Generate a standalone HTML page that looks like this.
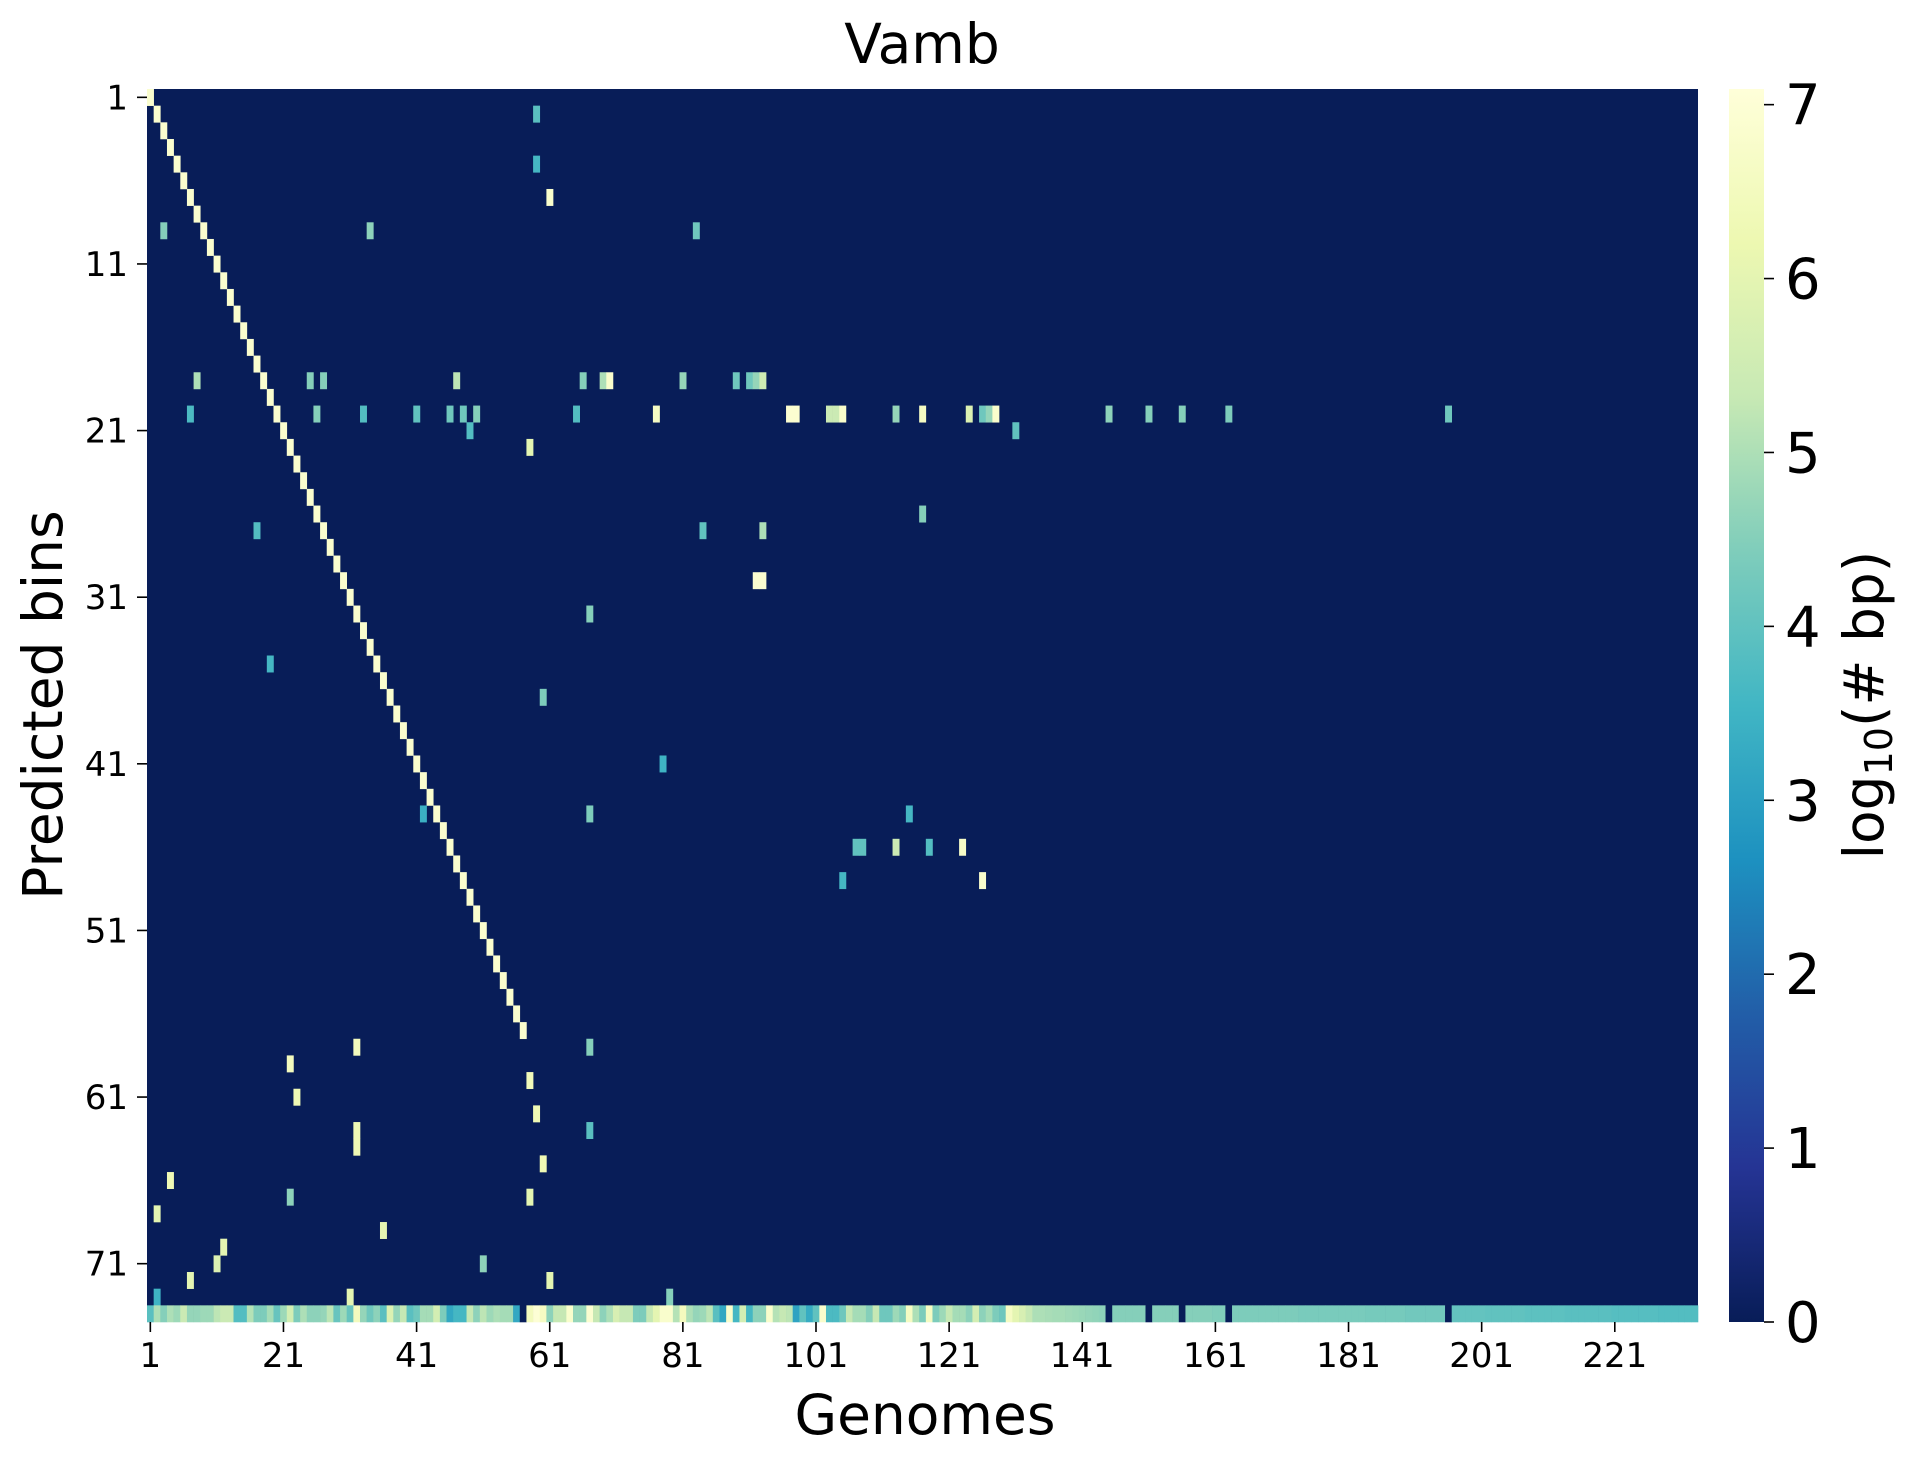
<!DOCTYPE html>
<html><head><meta charset="utf-8"><title>Vamb</title>
<style>
html,body{margin:0;padding:0;background:#fff;}
svg{display:block;font-family:"DejaVu Sans","Liberation Sans",sans-serif;}
</style></head>
<body>
<svg id="chart" width="1905" height="1459" viewBox="0 0 1905 1459" xmlns="http://www.w3.org/2000/svg">
  <defs>
    <linearGradient id="cbgrad" x1="0" y1="1" x2="0" y2="0">
      <stop offset="0" stop-color="#081d58"/>
      <stop offset="0.125" stop-color="#253494"/>
      <stop offset="0.25" stop-color="#225ea8"/>
      <stop offset="0.375" stop-color="#1d91c0"/>
      <stop offset="0.5" stop-color="#41b6c4"/>
      <stop offset="0.625" stop-color="#7fcdbb"/>
      <stop offset="0.75" stop-color="#c7e9b4"/>
      <stop offset="0.875" stop-color="#edf8b1"/>
      <stop offset="1" stop-color="#ffffd9"/>
    </linearGradient>
  </defs>
  <text x="922" y="63" font-size="55" text-anchor="middle" fill="#000">Vamb</text>
  <g id="plot"></g>
  <g id="yaxis"></g>
  <g id="xaxis"></g>
  <text x="925" y="1434" font-size="55" text-anchor="middle" fill="#000">Genomes</text>
  <text transform="translate(62,705) rotate(-90)" font-size="55" text-anchor="middle" fill="#000">Predicted bins</text>
  <rect x="1729" y="89" width="35" height="1233" fill="url(#cbgrad)"/>
  <g id="cbaxis"></g>
  <text transform="translate(1883,705) rotate(-90)" font-size="55" text-anchor="middle" fill="#000">log<tspan font-size="38" dy="9">10</tspan><tspan dy="-9">(# bp)</tspan></text>
</svg>
<script>
// ---- data ----
const nRows = 74;
const nCols = 233;
const vmax = 7.09;
const xTickLabels = [1,21,41,61,81,101,121,141,161,181,201,221];
const yTickLabels = [1,11,21,31,41,51,61,71];
const cbTickLabels = [0,1,2,3,4,5,6,7];
// diagonal cells: [bin, genome, value]
const diagCells = [
[1,1,6.85],[2,2,6.85],[3,3,6.85],[4,4,6.85],[5,5,6.85],[6,6,6.85],[7,7,6.85],[8,8,6.85],[9,9,6.85],[10,10,6.85],
[11,11,6.85],[12,12,6.85],[13,13,6.85],[14,14,6.85],[15,15,6.85],[16,16,6.85],[17,17,6.85],[18,18,6.85],[19,19,6.85],[20,20,6.85],
[21,21,6.85],[22,22,6.85],[23,23,6.85],[24,24,6.85],[25,25,6.85],[26,26,6.85],[27,27,6.85],[28,28,6.85],[29,29,6.85],[30,30,6.85],
[31,31,6.85],[32,32,6.85],[33,33,6.85],[34,34,6.85],[35,35,6.85],[36,36,6.85],[37,37,6.85],[38,38,6.85],[39,39,6.85],[40,40,6.85],
[41,41,6.85],[42,42,6.85],[43,43,6.85],[44,44,6.85],[45,45,6.85],[46,46,6.85],[47,47,6.85],[48,48,6.85],[49,49,6.85],[50,50,6.85],
[51,51,6.85],[52,52,6.85],[53,53,6.85],[54,54,6.85],[55,55,6.85],[56,56,6.85],[57,57,6.85]
];
// off-diagonal cells: [bin, genome, value]
const otherCells = [
[2,59,3.9],[5,59,3.6],[7,61,6.8],[9,3,4.5],[9,34,4.6],[9,83,4.2],
[18,8,5.0],[18,25,4.5],[18,27,4.5],[18,47,5.2],[18,66,4.5],[18,69,5.0],[18,70,6.8],[18,81,4.7],[18,89,4.2],[18,91,4.2],[18,92,4.7],[18,93,5.5],
[20,7,3.7],[20,26,4.5],[20,33,3.8],[20,41,4.0],[20,46,4.2],[20,48,4.2],[20,50,4.5],[20,65,3.8],[20,77,6.6],[20,97,6.9],[20,98,6.9],[20,103,5.4],[20,104,5.4],[20,105,6.8],[20,113,4.7],[20,117,6.6],[20,124,5.8],[20,126,4.2],[20,127,4.7],[20,128,6.8],[20,145,4.6],[20,151,4.5],[20,156,4.5],[20,163,4.4],[20,196,4.2],
[21,49,3.8],[21,131,4.0],[22,58,6.0],
[26,117,4.5],[27,17,3.8],[27,84,4.0],[27,93,5.0],[30,92,6.9],[30,93,6.9],[32,67,4.5],[35,19,3.6],[37,60,4.4],
[41,78,3.5],[44,42,3.4],[44,67,4.4],[44,115,3.6],[46,107,4.0],[46,108,4.0],[46,113,5.4],[46,118,3.8],[46,123,6.7],[48,105,3.6],[48,126,6.8],
[58,32,6.5],[58,67,4.5],[59,22,6.5],[60,58,6.4],[61,23,6.3],[62,59,6.3],[63,32,6.3],[64,32,6.3],[63,67,3.9],[65,60,6.3],[66,4,6.3],[67,22,4.6],[67,58,6.0],[68,2,6.0],[69,36,6.0],[70,12,6.0],[71,11,5.8],[71,51,4.6],[72,7,6.0],[72,61,6.0],[73,2,3.5],[73,31,6.0],[73,79,4.5]
];
// bottom row (bin 74) values for genomes 1..233
const bottomRow = [
3.9,5.0,4.5,5.0,4.8,5.4,4.7,4.7,4.8,4.8,5.2,5.4,5.4,
3.8,3.8,5.1,4.4,4.4,4.9,4.1,4.8,5.6,4.4,5.0,4.6,4.6,
4.7,5.2,4.1,4.8,4.1,6.5,4.7,4.2,4.6,3.9,5.8,4.7,5.3,
3.9,4.2,4.9,4.9,5.6,4.4,3.2,3.6,3.6,5.3,4.6,5.2,4.8,
5.0,4.9,4.9,3.2,0,6.5,7.0,6.6,4.6,5.3,5.3,6.8,4.7,
4.7,6.9,5.3,4.6,5.0,5.7,5.3,5.3,4.4,4.4,5.3,6.0,6.8,
6.8,5.1,6.5,5.0,4.7,4.8,5.2,3.9,3.2,6.8,3.6,5.6,3.6,
4.6,4.6,6.8,5.1,5.3,5.2,3.1,4.0,3.3,4.0,6.8,3.7,3.7,
4.2,5.3,4.9,4.9,4.5,5.3,4.2,4.2,4.8,4.5,6.6,5.0,4.4,
6.6,4.4,4.8,5.3,4.9,4.9,4.6,5.6,4.6,4.9,4.4,4.2,6.6,
6.0,5.7,5.3,5.0,5.0,4.95,4.9,4.9,4.85,4.8,4.75,4.7,4.65,4.6,
0,
4.5,4.5,4.5,4.5,4.5,
0,
4.5,4.5,4.5,4.5,
0,
4.5,4.5,4.5,4.5,4.45,4.45,
0,
4.4,4.4,4.4,4.4,4.4,4.4,4.4,4.4,4.4,4.4,
4.35,4.35,4.35,4.35,4.35,4.35,4.35,4.35,4.35,4.35,
4.3,4.3,4.3,4.3,4.3,4.3,4.25,4.25,4.25,4.25,4.25,4.25,
0,
4.05,4.05,4.05,4.05,4.05,4.0,4.0,4.0,4.0,4.0,4.0,
3.95,3.95,3.95,3.95,3.95,3.95,3.9,3.9,3.9,3.9,3.9,3.9,3.9,
3.85,3.85,3.85,3.85,3.85,3.85,3.85,3.8,3.8,3.8,3.8,3.8,3.8
];

// ---- geometry ----
const NS = "http://www.w3.org/2000/svg";
const plotL = 147, plotR = 1698, plotT = 89, plotB = 1322;
const cw = (plotR - plotL) / nCols;
const rh = (plotB - plotT) / nRows;
const cbL = 1729, cbR = 1764, cbT = 89, cbB = 1322;
function xCol(c){ return plotL + (c - 1) * cw; }
function yRow(r){ return plotT + (r - 1) * rh; }
function yCb(v){ return cbB - (v / vmax) * (cbB - cbT); }

const stops = ["#081d58","#253494","#225ea8","#1d91c0","#41b6c4","#7fcdbb","#c7e9b4","#edf8b1","#ffffd9"];
function hex2rgb(h){ return [parseInt(h.substr(1,2),16),parseInt(h.substr(3,2),16),parseInt(h.substr(5,2),16)]; }
function colorFor(v){
  let t = Math.max(0, Math.min(1, v / vmax)) * (stops.length - 1);
  let i = Math.min(stops.length - 2, Math.floor(t));
  let f = t - i;
  let a = hex2rgb(stops[i]), b = hex2rgb(stops[i+1]);
  return "rgb(" + a.map((x,k)=>Math.round(x + (b[k]-x)*f)).join(",") + ")";
}
function mk(tag, attrs, parent){
  const e = document.createElementNS(NS, tag);
  for (const k in attrs) e.setAttribute(k, attrs[k]);
  parent.appendChild(e);
  return e;
}

const plot = document.getElementById("plot");
const bg = mk("rect", {x: plotL, y: plotT, width: plotR - plotL, height: plotB - plotT, fill: colorFor(0)}, plot);



function drawCell(r, c, v){
  const rect = mk("rect", {x: xCol(c).toFixed(2), y: yRow(r).toFixed(2), width: (cw + 0.3).toFixed(2), height: (rh + 0.3).toFixed(2), fill: colorFor(v)}, plot);
  
  
}
diagCells.forEach(d => drawCell(d[0], d[1], d[2]));
otherCells.forEach(d => drawCell(d[0], d[1], d[2]));
bottomRow.forEach((v, i) => drawCell(nRows, i + 1, v));

// y axis
const yaxis = document.getElementById("yaxis");
yTickLabels.forEach(lab => {
  const yc = yRow(lab) + rh / 2;
  const tk = mk("line", {x1: plotL - 10, x2: plotL, y1: yc, y2: yc, stroke: "#000", "stroke-width": 1.6}, yaxis);
  
  
  const t = mk("text", {x: plotL - 19, y: yc + 12, "font-size": 34, "text-anchor": "end", fill: "#000"}, yaxis);
  
  
  t.textContent = lab;
});
// x axis
const xaxis = document.getElementById("xaxis");
xTickLabels.forEach(lab => {
  const xc = xCol(lab) + cw / 2;
  const tk = mk("line", {x1: xc, x2: xc, y1: plotB, y2: plotB + 10, stroke: "#000", "stroke-width": 1.6}, xaxis);
  
  
  const t = mk("text", {x: xc, y: plotB + 45, "font-size": 34, "text-anchor": "middle", fill: "#000"}, xaxis);
  
  
  t.textContent = lab;
});
// colorbar axis
const cbaxis = document.getElementById("cbaxis");
cbTickLabels.forEach(lab => {
  const yc = yCb(lab);
  const tk = mk("line", {x1: cbR, x2: cbR + 10, y1: yc, y2: yc, stroke: "#000", "stroke-width": 1.6}, cbaxis);
  
  
  const t = mk("text", {x: cbR + 21, y: yc + 20, "font-size": 56, fill: "#000"}, cbaxis);
  
  
  t.textContent = lab;
});
</script>
</body></html>
